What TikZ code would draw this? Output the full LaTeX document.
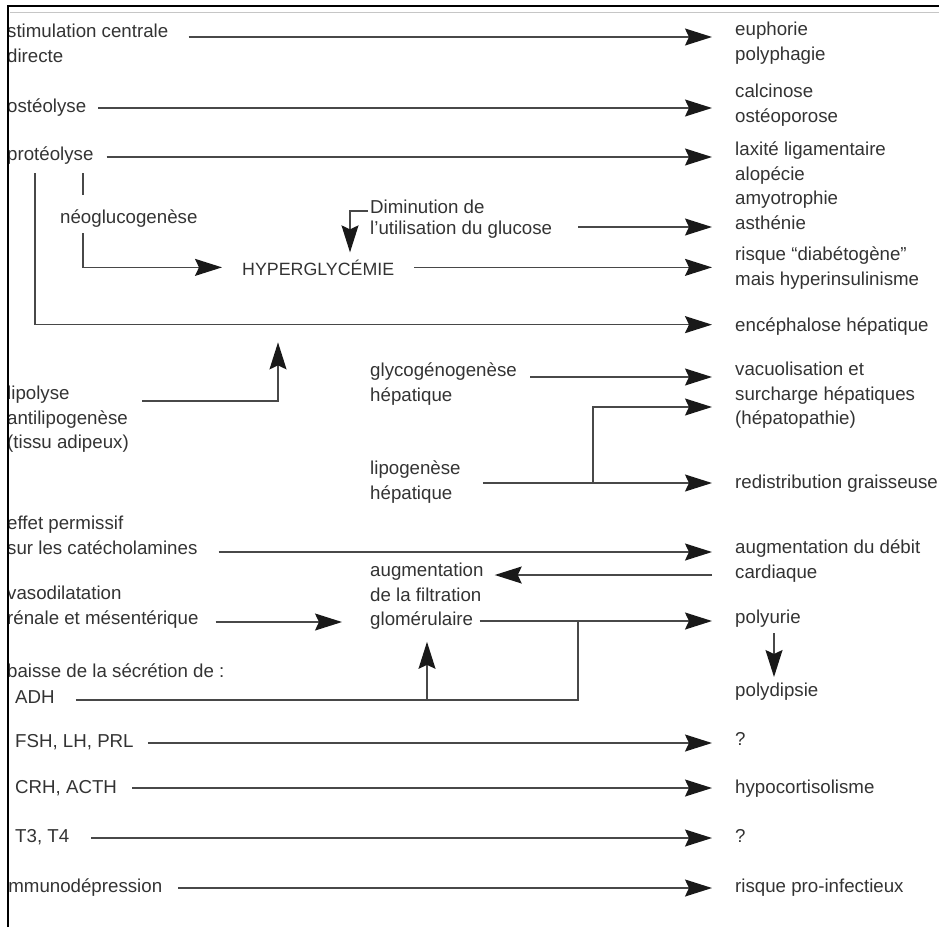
\documentclass[tikz,border=0pt]{standalone}
\usepackage{fontspec}
\setmainfont{Liberation Sans}
\usetikzlibrary{arrows.meta,calc}
\definecolor{txtc}{HTML}{333333}
\definecolor{lnc}{HTML}{484848}
\begin{document}
\begin{tikzpicture}[x=1pt,y=-1pt,
  txt/.style={anchor=north west, inner xsep=0pt, inner ysep=0pt, align=left, text=txtc,
    font=\fontsize{18.7}{24.5}\selectfont, execute at begin node={\rule{0pt}{17pt}}},
  rtxt/.style={txt, inner xsep=23pt},
  hyp/.style={anchor=base west, inner xsep=20pt, inner ysep=0pt, text=txtc,
    font=\fontsize{17.8}{20}\selectfont},
  ln/.style={draw=lnc, line width=1.4pt},
  arr/.style={ln, -{Stealth[length=27pt,width=17pt,inset=4pt,color=black!90]}},
]
\useasboundingbox (0,0) rectangle (939,927);
\begin{scope}
\clip (9.5,0) rectangle (960,927);
% left column
\node[txt] (stim) at (7,24) {stimulation centrale\\directe};
\node[txt] (osteo) at (7,95) {ostéolyse};
\node[txt] (prot) at (7,143) {protéolyse};
\node[txt] (neo) at (60,206) {néoglucogenèse};
\node[txt, font=\fontsize{18.7}{21}\selectfont] (dim) at (370,200) {Diminution de\\l’utilisation du glucose};
\node[hyp] (hyp) at (222,275) {HYPERGLYCÉMIE};
\node[txt] (lipo) at (7,386) {lipolyse\\antilipogenèse\\(tissu adipeux)};
\node[txt] (gly) at (370,363) {glycogénogenèse\\hépatique};
\node[txt] (lipg) at (370,461) {lipogenèse\\hépatique};
\node[txt] (eff) at (7,516) {effet permissif\\sur les catécholamines};
\node[txt] (vaso) at (7,586) {vasodilatation\\rénale et mésentérique};
\node[txt] (filt) at (370,563) {augmentation\\de la filtration\\glomérulaire};
\node[txt] (baisse) at (7,660) {baisse de la sécrétion de :};
\node[txt] (adh) at (15,686) {ADH};
\node[txt] (fsh) at (15,730) {FSH, LH, PRL};
\node[txt] (crh) at (15,776) {CRH, ACTH};
\node[txt] (t3) at (15,825) {T3, T4};
\node[txt] (imm) at (4,875) {immunodépression};
% right column
\node[rtxt] (euph) at (712,22) {euphorie\\polyphagie};
\node[rtxt] (calci) at (712,84) {calcinose\\ostéoporose};
\node[rtxt] (lax) at (712,142) {laxité ligamentaire\\alopécie\\amyotrophie\\asthénie};
\node[rtxt] (risk) at (712,247) {risque “diabétogène”\\mais hyperinsulinisme};
\node[rtxt] (enc) at (712,314) {encéphalose hépatique};
\node[rtxt] (vac) at (712,362) {vacuolisation et\\surcharge hépatiques\\(hépatopathie)};
\node[rtxt] (redis) at (712,471) {redistribution graisseuse};
\node[rtxt] (aug) at (712,540) {augmentation du débit\\cardiaque};
\node[rtxt] (polyu) at (712,606) {polyurie};
\node[rtxt] (polyd) at (712,679) {polydipsie};
\node[rtxt] (q1) at (712,728) {?};
\node[rtxt] (hypo) at (712,776) {hypocortisolisme};
\node[rtxt] (q2) at (712,825) {?};
\node[rtxt] (rpi) at (712,875) {risque pro-infectieux};
% connectors
\draw[arr] ($(stim.north east)+(20,13)$) coordinate (a1) -- (a1 -| euph.west);
\draw[arr] ($(osteo.north east)+(12,13)$) coordinate (a2) -- (a2 -| calci.west);
\draw[arr] ($(prot.north east)+(13,14)$) coordinate (a3) -- (a3 -| lax.west);
\draw[ln] ($(prot.south west)+(76,9)$) -- ($(neo.north west)+(23,-11)$);
\draw[arr] ($(neo.south west)+(23,6)$) |- (hyp.west);
\draw[arr] ($(prot.south west)+(28,9)$) |- (enc.west);
\draw[arr] ($(dim.north west)+(-2,11)$) -| ($(hyp.north west)+(128,-7)$);
\draw[arr] ($(dim.north east)+(26,27)$) coordinate (d1) -- (d1 -| lax.west);
\draw[arr] (hyp.east) -- (hyp.east -| risk.west);
\draw[arr] ($(lipo.north east)+(13,15)$) -| ($(hyp.south west)+(56,67)$);
\draw[arr] ($(gly.north east)+(13,14)$) coordinate (g1) -- (g1 -| vac.west);
\draw[arr] ($(lipg.north east)+(22,22)$) coordinate (l1) -- (l1 -| redis.west);
\draw[arr] ($(l1 -| vac.west)+(-119,0)$) |- ($(vac.north west)+(0,45)$);
\draw[arr] ($(eff.north east)+(21,36)$) coordinate (e1) -- (e1 -| aug.west);
\draw[arr] ($(aug.north west)+(0,35)$) coordinate (c1) -- ($(c1 -| filt.east)+(11,0)$);
\draw[arr] ($(vaso.north east)+(17,36)$) coordinate (v1) -- ($(v1 -| filt.west)+(-28,0)$);
\draw[arr] ($(filt.north east)+(-4,58)$) coordinate (f1) -- (f1 -| polyu.west);
\draw[ln] ($(adh.north east)+(21,14)$) coordinate (h1) -| ($(f1 -| polyu.west)+(-134,0)$);
\draw[arr] ($(h1 -| filt.west)+(57,0)$) -- ($(filt.south west)+(57,12)$);
\draw[arr] ($(polyu.south west)+(62,6)$) -- ($(polyd.north west)+(62,-2)$);
\draw[arr] ($(fsh.north east)+(14,13)$) coordinate (b1) -- (b1 -| q1.west);
\draw[arr] ($(crh.north east)+(15,12)$) coordinate (b2) -- (b2 -| hypo.west);
\draw[arr] ($(t3.north east)+(22,13)$) coordinate (b3) -- (b3 -| q2.west);
\draw[arr] ($(imm.north east)+(16,13)$) coordinate (b4) -- (b4 -| rpi.west);
\end{scope}
% frame
\draw[black, line width=2.5pt] (8,927) -- (8,6) -- (939,6);
\draw[gray!45, line width=1pt] (9.5,12) -- (939,12);
\end{tikzpicture}
\end{document}
